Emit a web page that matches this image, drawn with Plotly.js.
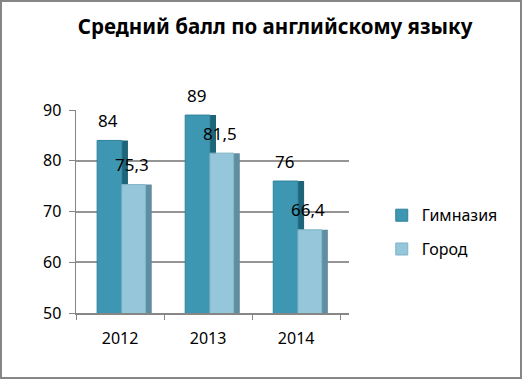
<!DOCTYPE html>
<html><head><meta charset="utf-8">
<script src="https://cdn.plot.ly/plotly-3.0.1.min.js"></script>
<style>body{margin:0;padding:0;background:#fff}#wrap{position:relative;width:522px;height:379px}#chart{width:522px;height:379px}#frame{position:absolute;left:0;top:0;width:522px;height:379px;box-sizing:border-box;border:2px solid #868686;pointer-events:none}</style>
</head><body><div id="wrap"><div id="chart"></div><div id="frame"></div></div>
<script>
var years = ['2012', '2013', '2014'];
var gymnasium = [84, 89, 76];
var city = [75.3, 81.5, 66.4];
var seriesNames = ['Гимназия', 'Город'];
var yTicks = [50, 60, 70, 80, 90];

var fontFam = 'Noto Sans, Open Sans, sans-serif';
var traces = [
  {type:'bar', x:years, y:gymnasium, width:0.07, offset:0.02, marker:{color:'#1f6579'}, showlegend:false, hoverinfo:'skip'},
  {type:'bar', name:seriesNames[0], legendgroup:'a', x:years, y:gymnasium, width:0.28, offset:-0.26,
   marker:{color:'#3d97b2', line:{color:'#2e8199', width:1}}},
  {type:'bar', x:years, y:city, width:0.07, offset:0.29, marker:{color:'#5f8ea0'}, showlegend:false, hoverinfo:'skip'},
  {type:'bar', name:seriesNames[1], legendgroup:'b', x:years, y:city, width:0.27, offset:0.02,
   marker:{color:'#95c6da', line:{color:'#7fb3c8', width:1}}}
];
function fmt(v){ return String(v).replace('.', ','); }
var annotations = [];
years.forEach(function(yr, i){
  annotations.push({x:i, y:gymnasium[i], xref:'x', yref:'y', text:fmt(gymnasium[i]), showarrow:false,
    xshift:-12, yshift:20, font:{size:17, color:'#000', family:fontFam}});
  annotations.push({x:i, y:city[i], xref:'x', yref:'y', text:fmt(city[i]), showarrow:false,
    xshift:12, yshift:20, font:{size:17, color:'#000', family:fontFam}});
});
var layout = {
  width:522, height:379,
  margin:{l:76, r:173, t:110, b:66},
  separators:', ',
  barmode:'overlay',
  paper_bgcolor:'#fff', plot_bgcolor:'#fff',
  font:{family:fontFam, color:'#000', size:16},
  title:{text:'<b>Средний балл по английскому языку</b>', x:0.527, xanchor:'center', y:0.93, yanchor:'middle',
         font:{size:20.5, family:fontFam, color:'#000'}},
  annotations:annotations,
  xaxis:{type:'category', range:[-0.5, 2.6], tickson:'boundaries', ticks:'outside', ticklen:5, tickcolor:'#868686',
         showline:true, linecolor:'#868686', linewidth:1.5, showgrid:false, tickfont:{size:16},
         ticklabelstandoff:10, fixedrange:true},
  yaxis:{range:[50, 90], tickvals:yTicks, ticks:'outside', ticklen:6, tickcolor:'#868686',
         showline:true, linecolor:'#868686', linewidth:1.5, gridcolor:'#959595', gridwidth:2,
         zeroline:false, tickfont:{size:16}, ticklabelstandoff:4, fixedrange:true},
  legend:{x:1.12, y:0.565, xanchor:'left', yanchor:'top', font:{size:16, family:fontFam}, tracegroupgap:10,
          traceorder:'grouped', bgcolor:'rgba(0,0,0,0)'},
  showlegend:true
};
Plotly.newPlot('chart', traces, layout, {displayModeBar:false, staticPlot:true});
</script></body></html>
